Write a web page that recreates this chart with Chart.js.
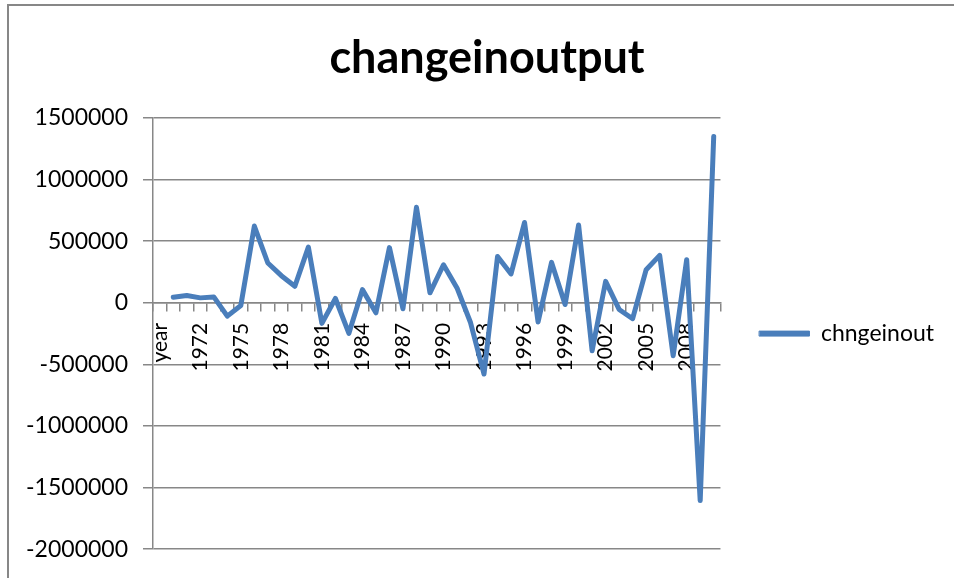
<!DOCTYPE html>
<html>
<head>
<meta charset="utf-8">
<script src="https://cdn.jsdelivr.net/npm/chart.js@4/dist/chart.umd.min.js"></script>
<style>
  body { margin: 0; background: #fff; }
  #wrap { width: 954px; height: 578px; }
</style>
</head>
<body>
<div id="wrap"><canvas id="myLineChart" width="954" height="578"></canvas></div>
<script>
const years = ['year', '1970', '1971', '1972', '1973', '1974', '1975', '1976', '1977', '1978', '1979',
    '1980', '1981', '1982', '1983', '1984', '1985', '1986', '1987', '1988', '1989',
    '1990', '1991', '1992', '1993', '1994', '1995', '1996', '1997', '1998', '1999',
    '2000', '2001', '2002', '2003', '2004', '2005', '2006', '2007', '2008', '2009', '2010'];

const chngeinout = [null, 45000, 59000, 40000, 48000, -108000, -22000, 623000, 323000, 220000, 134000,
    452000, -167000, 35000, -248000, 107000, -81000, 448000, -48000, 775000, 81000,
    309000, 121000, -160000, -578000, 376000, 234000, 652000, -156000, 328000, -14000,
    632000, -390000, 174000, -54000, -129000, 269000, 385000, -430000, 350000, -1605000, 1350000];

const yTicks = [-2000000, -1500000, -1000000, -500000, 0, 500000, 1000000, 1500000];

const lineBlue = '#4a7ebb';
const gridGray = '#878787';
const labelFont = {family: 'Lato', size: 23};

// grey frame of the chart object, its right and bottom edges fall outside the picture
const framePlugin = {
    id: 'frame',
    afterLayout(chart) {
        // the title is centred on the whole chart object, which runs past the right edge
        if (chart.titleBlock) {
            chart.titleBlock.left += 11;
            chart.titleBlock.right += 11;
        }
    },
    beforeDraw(chart) {
        const ctx = chart.ctx;
        ctx.save();
        ctx.strokeStyle = gridGray;
        ctx.lineWidth = 2;
        ctx.beginPath();
        ctx.moveTo(8, chart.height + 2);
        ctx.lineTo(8, 5);
        ctx.lineTo(chart.width + 2, 5);
        ctx.stroke();
        ctx.restore();
    }
};

function showEveryThirdYear(value, index) {
    return index % 3 === 0 ? years[index] : '';
}

function loadLineChart() {
    const ctx = document.getElementById('myLineChart').getContext('2d');
    new Chart(ctx, {
        type: 'line',
        data: {
            labels: years,
            datasets: [{
                label: 'chngeinout',
                data: chngeinout,
                borderColor: lineBlue,
                backgroundColor: lineBlue,
                borderWidth: 5,
                borderJoinStyle: 'round',
                borderCapStyle: 'round',
                pointRadius: 0,
                tension: 0
            }]
        },
        options: {
            responsive: false,
            animation: false,
            layout: {
                padding: {left: 8, right: 10, top: 0, bottom: 19}
            },
            plugins: {
                title: {
                    display: true,
                    text: 'changeinoutput',
                    color: '#000',
                    font: {family: 'Lato', size: 45, weight: 'bold'},
                    padding: {top: 31, bottom: 33}
                },
                legend: {
                    position: 'right',
                    fullSize: false,
                    maxWidth: 233,
                    labels: {
                        boxWidth: 50,
                        boxHeight: 5,
                        padding: 39,
                        color: '#000',
                        font: labelFont,
                        generateLabels: function (chart) {
                            const items = Chart.defaults.plugins.legend.labels.generateLabels(chart);
                            items.forEach(item => {
                                item.lineWidth = 1;
                            });
                            return items;
                        }
                    }
                },
                tooltip: {enabled: false}
            },
            scales: {
                x: {
                    type: 'category',
                    position: {y: 0},
                    offset: true,
                    grid: {
                        offset: true,
                        drawOnChartArea: false,
                        drawTicks: true,
                        tickLength: 8,
                        color: gridGray,
                        lineWidth: 1.5
                    },
                    border: {display: true, color: gridGray, width: 1.5},
                    ticks: {
                        autoSkip: false,
                        minRotation: 90,
                        maxRotation: 90,
                        padding: 12,
                        color: '#000',
                        font: {family: 'Lato', size: 21},
                        callback: showEveryThirdYear
                    }
                },
                y: {
                    min: -2000000,
                    max: 1500000,
                    afterFit(scale) {
                        scale.width = 145;
                    },
                    afterBuildTicks(scale) {
                        scale.ticks = yTicks.map(v => ({value: v}));
                    },
                    grid: {
                        color: gridGray,
                        lineWidth: 1.5,
                        tickLength: 10
                    },
                    border: {display: true, color: gridGray, width: 1.5},
                    ticks: {
                        padding: 15,
                        color: '#000',
                        font: labelFont,
                        callback: value => String(value)
                    }
                }
            }
        },
        plugins: [framePlugin]
    });
}

loadLineChart();
</script>
</body>
</html>
